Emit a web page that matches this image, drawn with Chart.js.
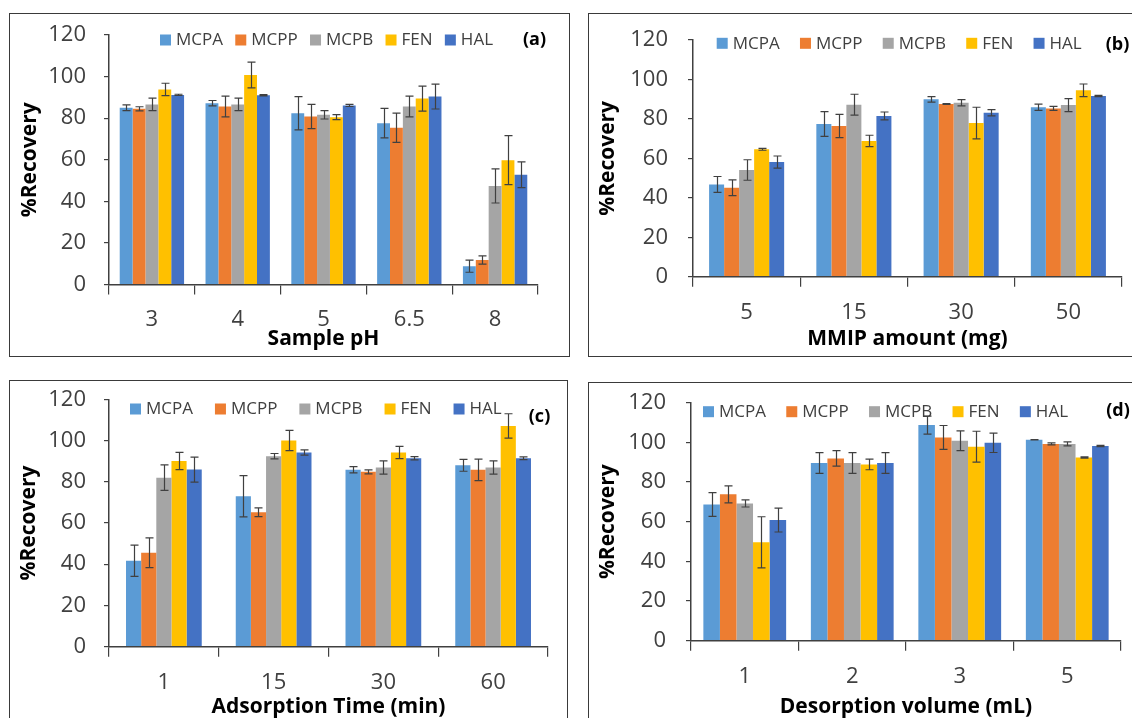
<!DOCTYPE html>
<html>
<head>
<meta charset="utf-8">
<title>Recovery panels</title>
<script src="https://cdn.jsdelivr.net/npm/chart.js@4.4.0/dist/chart.umd.min.js"></script>
<style>
  html, body { margin: 0; padding: 0; background: #fff; width: 1132px; height: 718px; overflow: hidden; }
  .frame { position: absolute; border: 1.5px solid #3a3a3a; box-sizing: border-box; }
  canvas { position: absolute; }
</style>
</head>
<body>
<div class="frame" style="left:9px;top:13px;width:561px;height:344px"></div>
<div class="frame" style="left:588px;top:13px;width:570px;height:344px"></div>
<div class="frame" style="left:9px;top:380px;width:559px;height:360px"></div>
<div class="frame" style="left:588px;top:382px;width:570px;height:360px"></div>

<canvas id="chartA" style="left:9px;top:13px" width="561" height="344"></canvas>
<canvas id="chartB" style="left:588px;top:13px" width="544" height="344"></canvas>
<canvas id="chartC" style="left:9px;top:380px" width="561" height="345"></canvas>
<canvas id="chartD" style="left:588px;top:382px" width="544" height="343"></canvas>

<script>
const seriesNames = ["MCPA", "MCPP", "MCPB", "FEN", "HAL"];
const seriesColors = ["#5B9BD5", "#ED7D31", "#A5A5A5", "#FFC000", "#4472C4"];

// (a) sample pH
const phLabels = ["3", "4", "5", "6.5", "8"];
const phRecovery = [
  [85.0, 87.2, 82.4, 77.6, 8.8],
  [84.5, 85.6, 80.8, 75.4, 11.8],
  [86.6, 86.6, 81.6, 85.6, 47.4],
  [93.8, 100.8, 80.5, 89.4, 59.8],
  [91.2, 91.0, 86.1, 90.4, 52.8]
];
const phError = [
  [1.4, 1.3, 8.0, 7.1, 2.9],
  [1.0, 5.0, 5.8, 7.0, 2.0],
  [3.0, 3.0, 2.0, 5.0, 8.2],
  [3.0, 6.2, 1.2, 6.0, 11.8],
  [0.3, 0.3, 0.5, 6.0, 6.2]
];

// (b) MMIP amount
const mmipLabels = ["5", "15", "30", "50"];
const mmipRecovery = [
  [46.8, 77.4, 89.9, 85.9],
  [45.1, 76.4, 87.5, 85.3],
  [54.1, 87.2, 88.2, 87.0],
  [64.6, 68.8, 77.9, 94.5],
  [58.1, 81.5, 83.1, 91.6]
];
const mmipError = [
  [4.0, 6.3, 1.4, 1.6],
  [4.0, 5.9, 0.2, 1.0],
  [5.2, 5.3, 1.6, 3.3],
  [0.5, 2.9, 8.0, 3.2],
  [3.1, 2.0, 1.6, 0.3]
];

// (c) adsorption time
const timeLabels = ["1", "15", "30", "60"];
const timeRecovery = [
  [41.7, 73.0, 85.8, 88.0],
  [45.6, 65.2, 84.8, 85.8],
  [82.0, 92.4, 86.9, 86.9],
  [90.1, 100.0, 94.2, 107.1],
  [85.9, 94.2, 91.4, 91.4]
];
const timeError = [
  [7.6, 10.0, 1.5, 2.9],
  [7.2, 2.1, 1.0, 5.2],
  [6.2, 1.3, 3.2, 3.2],
  [4.2, 4.9, 3.0, 5.9],
  [6.1, 1.3, 0.8, 0.7]
];

// (d) desorption volume
const volLabels = ["1", "2", "3", "5"];
const volRecovery = [
  [68.7, 89.6, 108.7, 101.3],
  [73.8, 91.9, 102.5, 99.2],
  [69.2, 89.6, 100.8, 99.2],
  [49.6, 88.9, 97.8, 92.4],
  [60.8, 89.6, 99.8, 98.2]
];
const volError = [
  [6.0, 5.2, 4.5, 0.1],
  [4.3, 3.9, 6.0, 0.5],
  [1.8, 5.2, 5.0, 1.0],
  [12.9, 2.7, 7.8, 0.3],
  [6.0, 5.2, 4.9, 0.3]
];

const FONT = "'Open Sans', 'Segoe UI', sans-serif";

// error bars drawn from each bar's own position and the y scale
const errorBars = {
  id: "errorBars",
  afterDatasetsDraw(chart) {
    const ctx = chart.ctx;
    const y = chart.scales.y;
    ctx.save();
    ctx.strokeStyle = "#404040";
    ctx.lineWidth = 1.2;
    chart.data.datasets.forEach((ds, i) => {
      chart.getDatasetMeta(i).data.forEach((bar, j) => {
        const v = ds.data[j], e = ds.errors[j];
        const top = y.getPixelForValue(v + e);
        const bot = y.getPixelForValue(v - e);
        const x = Math.round(bar.x) + 0.5;
        ctx.beginPath();
        ctx.moveTo(x, top); ctx.lineTo(x, bot);
        ctx.moveTo(x - 4, top); ctx.lineTo(x + 4, top);
        ctx.moveTo(x - 4, bot); ctx.lineTo(x + 4, bot);
        ctx.stroke();
      });
    });
    ctx.restore();
  }
};

// one-row legend inside the plot, spread between x0 and x1
const insideLegend = {
  id: "insideLegend",
  afterDraw(chart, args, opts) {
    const ctx = chart.ctx;
    ctx.save();
    ctx.font = "17px " + FONT;
    ctx.textBaseline = "middle";
    ctx.textAlign = "left";
    const items = chart.data.datasets.map(ds => ({
      text: ds.label, color: ds.backgroundColor, w: ctx.measureText(ds.label).width
    }));
    const used = items.reduce((s, it) => s + 16 + it.w, 0);
    const gap = (opts.x1 - opts.x0 - used) / (items.length - 1);
    let x = opts.x0;
    items.forEach(it => {
      ctx.fillStyle = it.color;
      ctx.fillRect(x, opts.y - 5.5, 11, 11);
      ctx.fillStyle = "#404040";
      ctx.fillText(it.text, x + 16, opts.y + 0.5);
      x += 16 + it.w + gap;
    });
    ctx.restore();
  }
};

// the (a)/(b)/... tag in the corner
const panelTag = {
  id: "panelTag",
  afterDraw(chart, args, opts) {
    const ctx = chart.ctx;
    ctx.save();
    ctx.font = "bold 18px " + FONT;
    ctx.fillStyle = "#000";
    ctx.textAlign = "center";
    ctx.textBaseline = "middle";
    ctx.fillText(opts.text, opts.x, opts.y);
    ctx.restore();
  }
};

function makeChart(id, labels, values, errors, xTitle, g) {
  const datasets = seriesNames.map((name, i) => ({
    label: name,
    data: values[i],
    errors: errors[i],
    backgroundColor: seriesColors[i],
    borderWidth: 0,
    barPercentage: 1.0,
    categoryPercentage: g.cat
  }));
  return new Chart(document.getElementById(id), {
    type: "bar",
    data: { labels, datasets },
    plugins: [errorBars, insideLegend, panelTag],
    options: {
      responsive: false,
      animation: false,
      layout: { padding: { left: g.pl, top: g.pt, right: g.pr, bottom: g.pb } },
      plugins: {
        tooltip: { enabled: false },
        legend: { display: false },
        insideLegend: { x0: g.lx0, x1: g.lx1, y: g.ly },
        panelTag: { text: g.tag, x: g.tx, y: g.ty }
      },
      scales: {
        x: {
          afterFit(s) { s.height = g.xh; },
          grid: { offset: true, drawOnChartArea: false, drawTicks: true, tickLength: 10, color: "#404040", lineWidth: 1.2 },
          border: { display: true, color: "#404040", width: 1.5 },
          ticks: { color: "#404040", padding: 12.5, font: { family: FONT, size: 22 } },
          title: { display: true, text: xTitle, color: "#000", padding: 0, font: { family: FONT, size: 21, weight: "bold", lineHeight: 1.2 } }
        },
        y: {
          min: 0, max: 120,
          afterFit(s) { s.width = g.yw; },
          grid: { drawOnChartArea: false, drawTicks: true, tickLength: 5, color: "#404040", lineWidth: 1.2 },
          border: { display: true, color: "#404040", width: 1.5 },
          // tiny lineHeight keeps the label half-height out of the top margin
          ticks: { stepSize: 20, color: "#404040", padding: g.tp, font: { family: FONT, size: 22, lineHeight: 0.05 } },
          title: { display: true, text: "%Recovery", color: "#000", padding: 0, font: { family: FONT, size: 21, weight: "bold", lineHeight: 1.2 } }
        }
      }
    }
  });
}

makeChart("chartA", phLabels, phRecovery, phError, "Sample pH",
  { cat: 0.75, pl: 8, pt: 22, pr: 32, pb: 5, yw: 92, xh: 67.5, tp: 18,
    lx0: 151, lx1: 484, ly: 27, tag: "(a)", tx: 525.5, ty: 27 });
makeChart("chartB", mmipLabels, mmipRecovery, mmipError, "MMIP amount (mg)",
  { cat: 0.70, pl: 7, pt: 27, pr: 10, pb: 5, yw: 98, xh: 75.3, tp: 20,
    lx0: 128.7, lx1: 493.7, ly: 30.3, tag: "(b)", tx: 529.5, ty: 32 });
makeChart("chartC", timeLabels, timeRecovery, timeError, "Adsorption Time (min)",
  { cat: 0.69, pl: 7, pt: 19.3, pr: 22, pb: 5, yw: 93, xh: 73.3, tp: 18,
    lx0: 121, lx1: 492.7, ly: 29, tag: "(c)", tx: 530.5, ty: 37 });
makeChart("chartD", volLabels, volRecovery, volError, "Desorption volume (mL)",
  { cat: 0.77, pl: 7, pt: 20.7, pr: 11, pb: 5, yw: 96, xh: 79.3, tp: 20,
    lx0: 115, lx1: 480, ly: 29.7, tag: "(d)", tx: 530, ty: 29 });
</script>
</body>
</html>
